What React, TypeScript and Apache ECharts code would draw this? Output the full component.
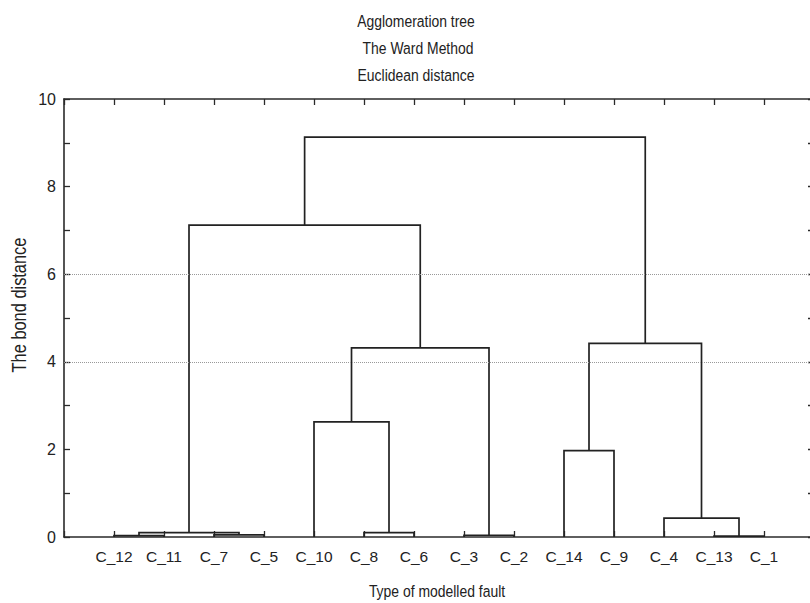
import React, { useEffect, useRef } from "react";
import * as echarts from "echarts";

// Leaves in dendrogram order (left to right)
const leafNames = ["C_12", "C_11", "C_7", "C_5", "C_10", "C_8", "C_6", "C_3", "C_2", "C_14", "C_9", "C_4", "C_13", "C_1"];
// Merges: node ids 0..13 are leaves, merge k creates node 14+k
const mergeLeft = [0, 2, 14, 5, 4, 7, 18, 16, 12, 11, 9, 24, 21];
const mergeRight = [1, 3, 15, 6, 17, 8, 19, 20, 13, 22, 10, 23, 25];
const mergeHeight = [0.03, 0.05, 0.1, 0.1, 2.63, 0.04, 4.32, 7.12, 0.02, 0.43, 1.97, 4.42, 9.13];
const yTickLabels = ["0", "", "2", "", "4", "", "6", "", "8", "", "10"];
const dottedLevels = [4, 6];
const titleLines = ["Agglomeration tree", "The Ward Method", "Euclidean distance"];

const FONT = "'Liberation Sans', Arial, sans-serif";

function buildSegments() {
  const posX: number[] = leafNames.map((_, i) => i + 1);
  const posH: number[] = leafNames.map(() => 0);
  const segs: number[][] = [];
  mergeLeft.forEach((l, k) => {
    const r = mergeRight[k];
    const h = mergeHeight[k];
    segs.push([posX[l], posH[l], posX[r], posH[r], h]);
    posX.push((posX[l] + posX[r]) / 2);
    posH.push(h);
  });
  return segs;
}

function narrowText(text: string, x: number, y: number, size: number, rotation = 0) {
  return {
    type: "text",
    x, y, rotation, scaleX: 0.82,
    style: { text, x: 0, y: 0, fill: "#222", font: `${size}px ${FONT}`, textAlign: "center", textVerticalAlign: "middle" },
  };
}

export default function App() {
  const ref = useRef<HTMLDivElement>(null);
  useEffect(() => {
    if (!ref.current) return;
    const chart = echarts.init(ref.current, undefined, { renderer: "svg" });
    const segs = buildSegments();
    const axisLine = { show: true, onZero: false, lineStyle: { color: "#2a2a2a", width: 1.6 } };
    const tick = { show: true, inside: true, length: 6, lineStyle: { color: "#2a2a2a", width: 1.3 } };
    chart.setOption({
      animation: false,
      backgroundColor: "#ffffff",
      grid: { left: 64, top: 99, width: 750, height: 438, outerBoundsMode: "none", containLabel: false },
      graphic: [
        narrowText(titleLines[0], 416, 21, 17),
        narrowText(titleLines[1], 418, 48, 17),
        narrowText(titleLines[2], 416, 75, 17),
        narrowText("The bond distance", 19, 305, 20, Math.PI / 2),
        narrowText("Type of modelled fault", 437, 591, 17),
      ],
      xAxis: [
        {
          type: "value", position: "bottom", min: 0, max: 15, interval: 1,
          axisLine, axisTick: tick, splitLine: { show: false },
          axisLabel: {
            margin: 11, color: "#222", fontSize: 15.5, fontFamily: FONT,
            formatter: (v: number) => leafNames[v - 1] || "",
          },
        },
        {
          type: "value", position: "top", min: 0, max: 15, interval: 1,
          axisLine, axisTick: tick, splitLine: { show: false }, axisLabel: { show: false },
        },
      ],
      yAxis: [
        {
          type: "value", position: "left", min: 0, max: 10, interval: 1,
          axisLine, axisTick: tick, splitLine: { show: false },
          axisLabel: {
            margin: 8, color: "#222", fontSize: 16, fontFamily: FONT,
            formatter: (v: number) => yTickLabels[v] ?? "",
          },
        },
        {
          type: "value", position: "right", min: 0, max: 10, interval: 1,
          axisLine, axisTick: tick, splitLine: { show: false }, axisLabel: { show: false },
        },
      ],
      series: [
        {
          type: "custom",
          xAxisIndex: 0,
          yAxisIndex: 0,
          encode: { x: [0, 2], y: [1, 3, 4] },
          data: segs,
          renderItem: (_p: any, api: any) => {
            const x1 = api.value(0), h1 = api.value(1), x2 = api.value(2), h2 = api.value(3), h = api.value(4);
            const pts = [api.coord([x1, h1]), api.coord([x1, h]), api.coord([x2, h]), api.coord([x2, h2])];
            return { type: "polyline", shape: { points: pts }, style: { stroke: "#222", lineWidth: 1.7, fill: "none" } };
          },
          markLine: {
            silent: true, symbol: "none", label: { show: false },
            lineStyle: { color: "#999", type: "dotted", width: 1 },
            data: dottedLevels.map((v) => ({ yAxis: v })),
          },
          z: 3,
        },
      ],
    });
    return () => chart.dispose();
  }, []);
  return <div ref={ref} style={{ position: "fixed", left: 0, top: 0, width: 810, height: 603, background: "#fff" }} />;
}
